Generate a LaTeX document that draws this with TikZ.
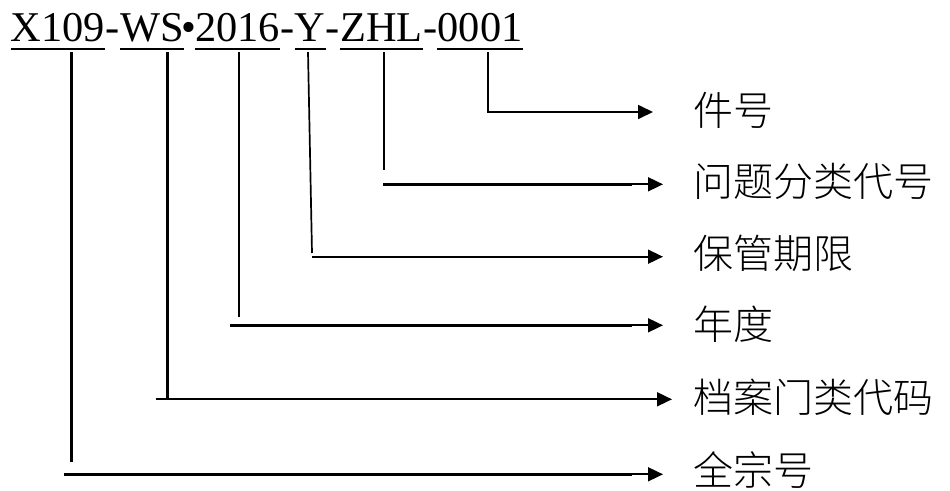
\documentclass[tikz,border=0pt]{standalone}
\usepackage{fontspec}
\setmainfont{Liberation Serif}
\newfontfamily\cjk{Noto Sans CJK SC Light}
\usetikzlibrary{arrows.meta,calc}
\begin{document}
\begin{tikzpicture}[x=1pt,y=-1pt,
  seg/.style={inner sep=0pt, anchor=base west, font=\fontsize{42.4}{50}\selectfont},
  lab/.style={inner sep=0pt, anchor=west, font=\cjk\fontsize{40}{48}\selectfont},
  conn/.style={line width=2.8pt},
  thinconn/.style={line width=1.7pt},
  uline/.style={line width=1.6pt},
  arr/.style={line width=1.7pt,-{Triangle[length=15pt,width=14pt]}}]
\useasboundingbox (0,0) rectangle (950,490);
% code segments
\node[seg] (s1) at (10.7,41) {X109};
\node[seg] (h1) at (s1.base east) {-};
\node[seg] (s2) at (h1.base east) {WS};
\node[seg] (dt) at (s2.base east) {\makebox[0.25em]{•}};
\node[seg] (s3) at (dt.base east) {2016};
\node[seg] (h2) at (s3.base east) {-};
\node[seg] (s4) at (h2.base east) {Y};
\node[seg] (h3) at (s4.base east) {-};
\node[seg] (s5) at (h3.base east) {ZHL};
\node[seg] (h4) at (s5.base east) {-};
\node[seg] (s6) at (h4.base east) {0001};
\foreach \n in {s1,s2,s3,s4,s5,s6}
  \draw[uline] ([yshift=-8pt]\n.base west) -- ([yshift=-8pt]\n.base east);
% labels
\node[lab] (l1) at (693,110) {件号};
\node[lab] (l2) at (693,181.5) {问题分类代号};
\node[lab] (l3) at (693,253.5) {保管期限};
\node[lab] (l4) at (693,324) {年度};
\node[lab] (l5) at (693,397.5) {档案门类代码};
\node[lab] (l6) at (693,470) {全宗号};
% column coordinates
\coordinate (x1) at (71.7,0);
\coordinate (x2) at (167.7,0);
\coordinate (x3) at (239,0);
\coordinate (x4) at (308,0);
\coordinate (x5) at (384,0);
\coordinate (x6) at (488,0);
% arrow shaft starts (thin part near each tip)
\coordinate (a1) at (622,112);
\coordinate (a2) at (632,184.3);
\coordinate (a3) at (632,256.7);
\coordinate (a4) at (632,325.3);
\coordinate (a5) at (641,399.3);
\coordinate (a6) at (632,474.3);
% 件号
\draw[conn] ([yshift=-11pt]s6.base -| x6) |- (a1);
\draw[arr] (a1) -- ($(l1.west)+(-40,2)$);
% 问题分类代号
\draw[thinconn] ([yshift=-11pt]s5.base -| x5) -- (384,170);
\coordinate (b2) at (383,184.3);
\draw[conn] (b2) -- (a2);
\draw[arr] (a2) -- ($(l2.west)+(-30,2.8)$);
% 保管期限
\coordinate (b3) at (312,256.7);
\draw[thinconn] ([yshift=-11pt]s4.base -| x4) -- (312,253);
\draw[thinconn] (b3) -- (a3);
\draw[arr] (a3) -- ($(l3.west)+(-30,3.2)$);
% 年度
\draw[conn] ([yshift=-11pt]s3.base -| x3) -- (239,317);
\coordinate (b4) at (230,325.3);
\draw[conn] (b4) -- (a4);
\draw[arr] (a4) -- ($(l4.west)+(-30,1.3)$);
% 档案门类代码
\draw[conn] ([yshift=-11pt]s2.base -| x2) -- (167.7,399.3);
\coordinate (b5) at (155.7,399.3);
\draw[thinconn] (b5) -- (a5);
\draw[arr] (a5) -- ($(l5.west)+(-21,1.8)$);
% 全宗号
\draw[conn] ([yshift=-11pt]s1.base -| x1) -- (71.7,461.7);
\coordinate (b6) at (64,474.3);
\draw[conn] (b6) -- (a6);
\draw[arr] (a6) -- ($(l6.west)+(-30,4.3)$);
\end{tikzpicture}
\end{document}
